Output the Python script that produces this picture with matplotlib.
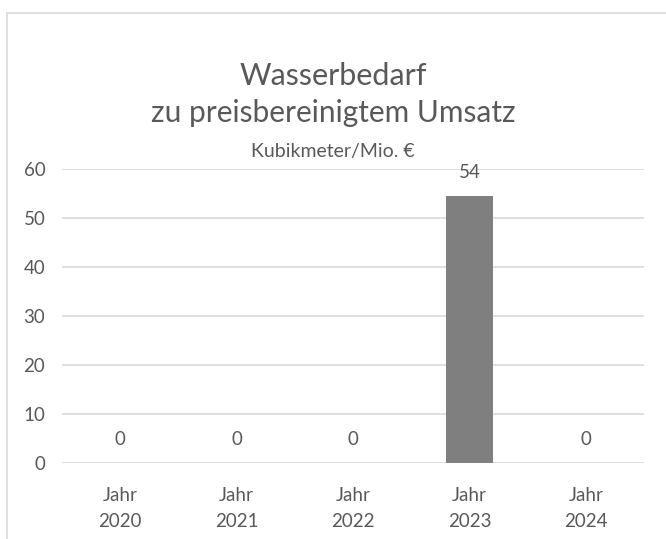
import matplotlib
matplotlib.use("Agg")
import matplotlib.pyplot as plt
from matplotlib.lines import Line2D

# DATA
years = ["Jahr\n2020", "Jahr\n2021", "Jahr\n2022", "Jahr\n2023", "Jahr\n2024"]
values = [0, 0, 0, 54.4, 0]
labels = ["0", "0", "0", "54", "0"]

TEXT = "#595959"
GRID = "#d9d9d9"
BAR = "#7f7f7f"

plt.rcParams['font.family'] = ['Lato', 'DejaVu Sans']

fig = plt.figure(figsize=(6.66, 5.39), dpi=100)
W, H = 666, 539

# chart frame (only top and left edge visible in crop)
fig.add_artist(Line2D([7 / W, 1], [1 - 13 / H, 1 - 13 / H], color=GRID, lw=1.2))
fig.add_artist(Line2D([7 / W, 7 / W], [0, 1 - 13 / H], color=GRID, lw=1.2))

ax = fig.add_axes([62 / W, 1 - 463 / H, (644 - 62) / W, (463 - 169) / H])

x = range(len(years))
ax.bar(x, values, width=0.4, color=BAR, zorder=3)
ax.set_xlim(-0.5, len(years) - 0.5)
ax.set_ylim(0, 60)
ax.set_yticks(range(0, 61, 10))
ax.grid(axis='y', color=GRID, lw=1.2, zorder=0)

for s in ax.spines.values():
    s.set_visible(False)
ax.tick_params(length=0, colors=TEXT, labelsize=13.5)
ax.tick_params(axis='y', pad=12)
ax.tick_params(axis='x', pad=17)
ax.set_xticks(list(x))
ax.set_xticklabels(years, linespacing=1.65)

for i, (v, t) in enumerate(zip(values, labels)):
    ax.annotate(t, (i, v), xytext=(0, 17), textcoords='offset points',
                ha='center', va='center', color=TEXT, fontsize=13.5)

fig.text(0.5, 1 - 76 / H, "Wasserbedarf", ha='center', va='center', color=TEXT, fontsize=22)
fig.text(0.5, 1 - 113 / H, "zu preisbereinigtem Umsatz", ha='center', va='center', color=TEXT, fontsize=21.5)
fig.text(0.5, 1 - 151 / H, "Kubikmeter/Mio. €", ha='center', va='center', color=TEXT, fontsize=14)

fig.savefig("out.png", dpi=100)
